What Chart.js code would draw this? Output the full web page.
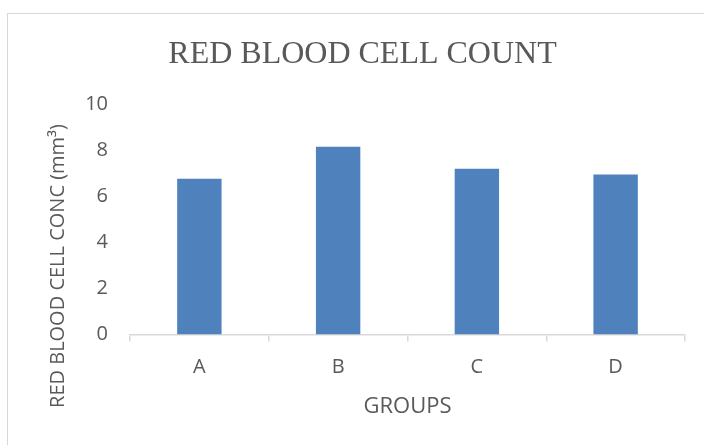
<!DOCTYPE html>
<html>
<head>
<meta charset="utf-8">
<script src="https://cdn.jsdelivr.net/npm/chart.js@4"></script>
<style>
  body { margin: 0; background: #fff; }
  #wrap { position: relative; width: 704px; height: 445px; overflow: hidden; }
  #frame { position: absolute; left: 7px; top: 13px; width: 720px; height: 460px; border: 1px solid #d9d9d9; }
  #myChart { position: absolute; left: 0; top: 0; }
</style>
</head>
<body>
<div id="wrap">
  <div id="frame"></div>
  <canvas id="myChart" width="704" height="445"></canvas>
</div>
<script>
const groups = ['A', 'B', 'C', 'D'];
const rbcCount = [6.77, 8.16, 7.2, 6.96];
const yTicks = [0, 2, 4, 6, 8, 10];
const yTitle = 'RED BLOOD CELL CONC (mm³)';

// y axis title sits lower than the plot centre in the original, so draw it by hand
const yTitlePlugin = {
  id: 'yTitle',
  afterDraw(chart) {
    const c = chart.ctx;
    c.save();
    c.translate(58, 266);
    c.rotate(-Math.PI / 2);
    c.font = '20px "Open Sans", sans-serif';
    c.fillStyle = '#595959';
    c.textAlign = 'center';
    c.textBaseline = 'middle';
    c.fillText(yTitle, 0, 0);
    c.restore();
  }
};

const ctx = document.getElementById('myChart').getContext('2d');
const myChart = new Chart(ctx, {
  type: 'bar',
  data: {
    labels: groups,
    datasets: [{
      label: 'Red blood cell count',
      data: rbcCount,
      backgroundColor: '#4F81BD',
      borderWidth: 0,
      categoryPercentage: 1,
      barPercentage: 0.32
    }]
  },
  options: {
    responsive: false,
    animation: false,
    layout: { padding: { left: 40, right: 19, top: 0, bottom: 25 } },
    plugins: {
      legend: { display: false },
      tooltip: { enabled: false },
      title: {
        display: true,
        text: 'RED BLOOD CELL COUNT',
        color: '#595959',
        font: { family: '"Liberation Serif", "Times New Roman", serif', size: 32, weight: 'normal' },
        padding: { top: 35, bottom: 31 }
      }
    },
    scales: {
      x: {
        grid: { display: true, offset: true, drawOnChartArea: false, color: '#d9d9d9', lineWidth: 1.5, tickLength: 7 },
        border: { display: true, color: '#d9d9d9', width: 1.5 },
        ticks: { color: '#595959', font: { family: '"Open Sans", sans-serif', size: 20 }, padding: 14 },
        title: { display: true, text: 'GROUPS', color: '#595959', font: { family: '"Open Sans", sans-serif', size: 22 }, padding: { top: 0, bottom: 0 } }
      },
      y: {
        min: 0,
        max: 10,
        afterBuildTicks: function(scale) { scale.ticks = yTicks.map(v => ({ value: v })); },
        afterFit: function(scale) { scale.width = 90; },
        grid: { display: false },
        border: { display: false },
        ticks: { color: '#595959', font: { family: '"Open Sans", sans-serif', size: 20 }, padding: 14 }
      }
    }
  },
  plugins: [yTitlePlugin]
});
</script>
</body>
</html>
